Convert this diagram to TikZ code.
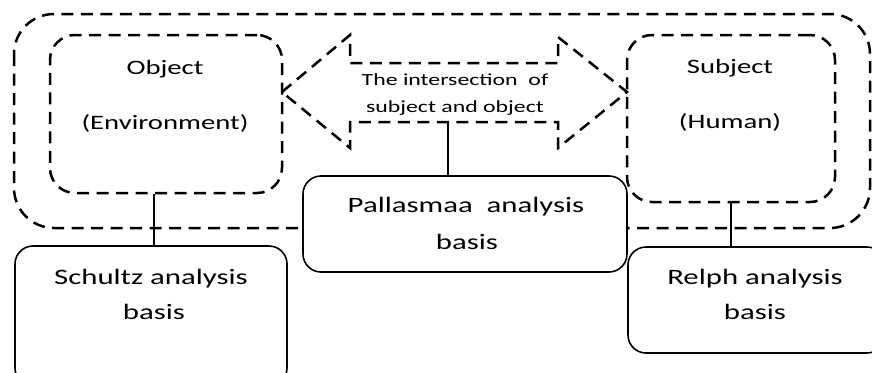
\documentclass[tikz,border=0pt]{standalone}
\usepackage{fontspec}
\setmainfont{Carlito}[FakeStretch=1.4]
\begin{document}
\begin{tikzpicture}[x=1pt,y=-1pt,
  dashbox/.style={draw=black,line width=2.5pt,dash pattern=on 12pt off 7.5pt},
  solidbox/.style={draw=black,line width=1.6pt,rounded corners=18pt},
  conn/.style={draw=black,line width=1.8pt},
  lab/.style={inner sep=0pt,anchor=base,font=\fontsize{20.5}{24}\selectfont},
  blab/.style={inner sep=0pt,anchor=base,font=\fontsize{22}{26}\selectfont},
  ilab/.style={inner sep=0pt,anchor=base,font=\fontsize{17}{20}\selectfont}]
\useasboundingbox (0,0) rectangle (872,372);
\clip (0,0) rectangle (872,372);
% outer dashed frame
\draw[dashbox,rounded corners=40pt] (14,14) rectangle (870,228);
% object / subject boxes
\node[dashbox,rounded corners=25pt,minimum width=232pt,minimum height=158pt,inner sep=0pt] (obj) at (166,114) {};
\node[dashbox,rounded corners=25pt,minimum width=208pt,minimum height=167pt,inner sep=0pt] (subj) at (731,118.5) {};
\node[lab] (objt) at (165,74) {Object};
\node[lab] (objt2) at (165,129) {(Environment)};
\node[lab] (subt) at (730,73) {Subject};
\node[lab] (subt2) at (730,128) {(Human)};
% double arrow
\draw[dashbox,line join=miter] (282,92) -- (350,35) -- (350,63) -- (558,63) -- (558,37) -- (627,92) -- (558,148) -- (558,122) -- (350,122) -- (350,148) -- cycle;
\coordinate (ab) at (448,122);
\node[ilab] (it1) at (455,85) {The intersection\ \ of};
\node[ilab] (it2) at (455,112) {subject and object};
% bottom boxes
\node[solidbox,fill=white,minimum width=324pt,minimum height=96pt,inner sep=0pt] (pal) at (465,224) {};
\node[blab] (palt) at (466,212) {Pallasmaa\ \ analysis};
\node[blab] (palt2) at (467,249) {basis};
\node[solidbox,minimum width=272pt,minimum height=140pt,inner sep=0pt] (sch) at (151,316) {};
\node[blab] (scht) at (151,284) {Schultz analysis};
\node[blab] (scht2) at (154,319) {basis};
\node[solidbox,minimum width=257pt,minimum height=106pt,inner sep=0pt] (rel) at (756.5,300) {};
\node[blab] (relt) at (755,284) {Relph analysis};
\node[blab] (relt2) at (755,319) {basis};
% connectors
\draw[conn] (obj.south -| scht2) -- (sch.north -| scht2);
\draw[conn] (subj.south) -- (subj.south |- rel.north);
\draw[conn] (ab) -- (ab |- pal.north);
\end{tikzpicture}
\end{document}
